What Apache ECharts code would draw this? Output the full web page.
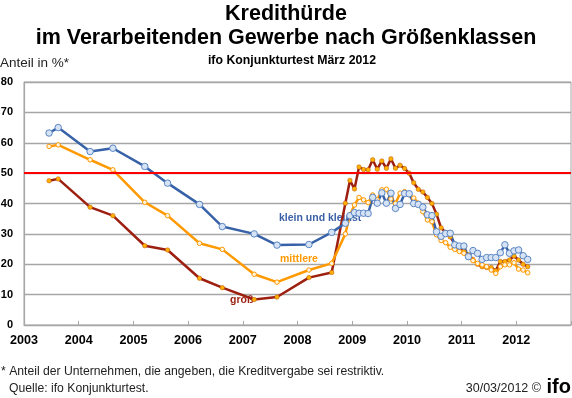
<!DOCTYPE html>
<html>
<head>
<meta charset="utf-8">
<script src="https://cdn.jsdelivr.net/npm/echarts@6/dist/echarts.min.js"></script>
<style>
html, body { margin: 0; padding: 0; background: #fff; }
#container { width: 572px; height: 398px; }
</style>
</head>
<body>
<div id="container"></div>
<script>
// survey months: twice a year until Aug 2008, monthly afterwards
var dates = [
    '2003-06', '2003-08', '2004-03', '2004-08', '2005-03', '2005-08',
    '2006-03', '2006-08', '2007-03', '2007-08', '2008-03', '2008-08',
    '2008-11', '2008-12',
    '2009-01', '2009-02', '2009-03', '2009-04', '2009-05', '2009-06',
    '2009-07', '2009-08', '2009-09', '2009-10', '2009-11', '2009-12',
    '2010-01', '2010-02', '2010-03', '2010-04', '2010-05', '2010-06',
    '2010-07', '2010-08', '2010-09', '2010-10', '2010-11', '2010-12',
    '2011-01', '2011-02', '2011-03', '2011-04', '2011-05', '2011-06',
    '2011-07', '2011-08', '2011-09', '2011-10', '2011-11', '2011-12',
    '2012-01', '2012-02', '2012-03'
];

var kleinKleinst = [
    63.2, 65.0, 57.1, 58.2, 52.2, 46.7, 39.7, 32.4, 30.0, 26.3, 26.5, 30.5,
    33.5, 36.0,
    37.0, 36.8, 36.8, 36.7, 42.0, 40.1, 43.5, 40.1, 43.4, 38.4, 39.7, 43.3,
    43.2, 40.0, 39.7, 38.8, 36.3, 36.0, 30.7, 29.2, 30.1, 30.2, 26.4, 26.0,
    26.0, 22.5, 24.5, 23.6, 21.6, 22.2, 22.2, 22.2, 23.8, 26.4, 23.6, 24.4,
    24.7, 22.8, 21.6
];

var mittlere = [
    58.8, 59.3, 54.4, 51.1, 40.4, 36.0, 26.9, 24.9, 16.7, 14.1, 18.1, 20.3,
    30.0, 36.2,
    39.5, 42.0, 41.2, 40.3, 42.8, 41.2, 44.5, 44.7, 41.5, 40.0, 43.4, 43.9,
    42.9, 41.8, 40.1, 37.3, 34.6, 34.0, 29.7, 27.8, 27.1, 25.6, 24.9, 24.2,
    23.6, 22.3, 21.2, 20.3, 19.8, 19.2, 18.1, 17.0, 19.2, 19.8, 19.8, 20.5,
    18.4, 18.1, 17.2
];

var gross = [
    47.5, 48.1, 38.8, 36.0, 26.1, 24.7, 15.4, 12.3, 8.4, 9.2, 15.6, 17.3,
    40.1, 47.6,
    44.8, 52.0, 51.2, 51.1, 54.4, 51.3, 54.0, 51.6, 54.7, 51.6, 52.6, 51.5,
    50.0, 46.8, 44.7, 43.8, 42.0, 40.0, 36.5, 32.0, 30.5, 29.0, 26.7, 25.3,
    24.2, 23.1, 21.6, 20.0, 19.2, 18.9, 18.9, 17.9, 20.9, 20.9, 21.4, 22.7,
    21.4, 20.0, 19.2
];

var threshold = 50;
var yearStart = 2003;
var yearEnd = 2013;

// month -> decimal year, point sits in the middle of the month
function toYear(d) {
    var p = d.split('-');
    return +p[0] + (+p[1] - 0.5) / 12;
}
function pairs(vals) {
    return dates.map(function (d, i) { return [toYear(d), vals[i]]; });
}

var font = '"Liberation Sans", Arial, sans-serif';
var gridColor = '#a6a6a6';

var myChart = echarts.init(document.getElementById('container'));
var option = {
    animation: false,
    backgroundColor: '#fff',
    textStyle: { fontFamily: font },
    title: [
        {
            text: 'Kredithürde\nim Verarbeitenden Gewerbe nach Größenklassen',
            left: 281,
            top: -3,
            textAlign: 'center',
            textStyle: { fontSize: 21.5, fontWeight: 'bold', color: '#000', lineHeight: 24, fontFamily: font }
        },
        {
            text: 'ifo Konjunkturtest März 2012',
            left: 287,
            top: 50,
            textAlign: 'center',
            textStyle: { fontSize: 12.3, fontWeight: 'bold', color: '#000', fontFamily: font }
        }
    ],
    grid: {
        left: 24,
        right: 1,
        top: 82,
        bottom: 73,
        outerBoundsMode: 'none',
        show: true,
        borderColor: gridColor,
        borderWidth: 1
    },
    xAxis: {
        type: 'value',
        min: yearStart,
        max: yearEnd,
        interval: 1,
        axisLine: { lineStyle: { color: gridColor, width: 1.2 } },
        axisTick: { inside: true, length: 4, lineStyle: { color: gridColor } },
        splitLine: { show: false },
        axisLabel: {
            margin: 9,
            fontSize: 12.6,
            fontWeight: 'bold',
            color: '#000',
            formatter: function (v) { return v < yearEnd ? String(v) : ''; }
        }
    },
    yAxis: {
        type: 'value',
        min: 0,
        max: 80,
        interval: 10,
        axisLine: { show: true, lineStyle: { color: gridColor, width: 1.2 } },
        axisTick: { show: false },
        splitLine: { lineStyle: { color: gridColor, width: 1.3 } },
        axisLabel: { margin: 11, fontSize: 11, fontWeight: 'bold', color: '#000' }
    },
    series: [
        {
            name: 'groß',
            type: 'line',
            data: pairs(gross),
            color: '#9c1f10',
            lineStyle: { width: 2.5, color: '#9c1f10' },
            symbol: 'circle',
            symbolSize: 4.5,
            itemStyle: { color: '#ffb000', borderColor: '#b8520a', borderWidth: 0.5 },
            markLine: {
                silent: true,
                symbol: 'none',
                label: { show: false },
                lineStyle: { color: '#ff0000', width: 2, type: 'solid' },
                data: [{ yAxis: threshold }]
            }
        },
        {
            name: 'mittlere',
            type: 'line',
            data: pairs(mittlere),
            color: '#ff9900',
            lineStyle: { width: 2.5, color: '#ff9900' },
            symbol: 'circle',
            symbolSize: 4.5,
            itemStyle: { color: '#fff4e0', borderColor: '#ff9900', borderWidth: 1 }
        },
        {
            name: 'klein und kleinst',
            type: 'line',
            data: pairs(kleinKleinst),
            color: '#3862a8',
            lineStyle: { width: 2.5, color: '#3862a8' },
            symbol: 'circle',
            symbolSize: 6.5,
            itemStyle: { color: '#d6e3f4', borderColor: '#5a86c6', borderWidth: 1 }
        }
    ],
    graphic: [
        { type: 'text', left: 0, top: 56, style: { text: 'Anteil in %*', fill: '#222', font: '13.5px ' + font } },
        { type: 'text', left: 279, top: 213, style: { text: 'klein und kleinst', fill: '#3b5fa6', font: 'bold 10.5px ' + font } },
        { type: 'text', left: 280, top: 254, style: { text: 'mittlere', fill: '#ff9900', font: 'bold 10.5px ' + font } },
        { type: 'text', left: 230, top: 295, style: { text: 'groß', fill: '#9c1f10', font: 'bold 10.5px ' + font } },
        { type: 'text', left: 1, top: 366, style: { text: '* Anteil der Unternehmen, die angeben, die Kreditvergabe sei restriktiv.', fill: '#222', font: '12.2px ' + font } },
        { type: 'text', left: 9, top: 383, style: { text: 'Quelle: ifo Konjunkturtest.', fill: '#222', font: '12.2px ' + font } },
        { type: 'text', right: 31, top: 382, style: { text: '30/03/2012 ©', fill: '#222', font: '12.5px ' + font } },
        { type: 'text', right: 1, top: 377, style: { text: 'ifo', fill: '#000', font: 'bold 20px ' + font } }
    ]
};

if (option && typeof option === "object") {
    myChart.setOption(option, true);
}
window.onresize = function () {
    myChart.resize();
};
</script>
</body>
</html>
